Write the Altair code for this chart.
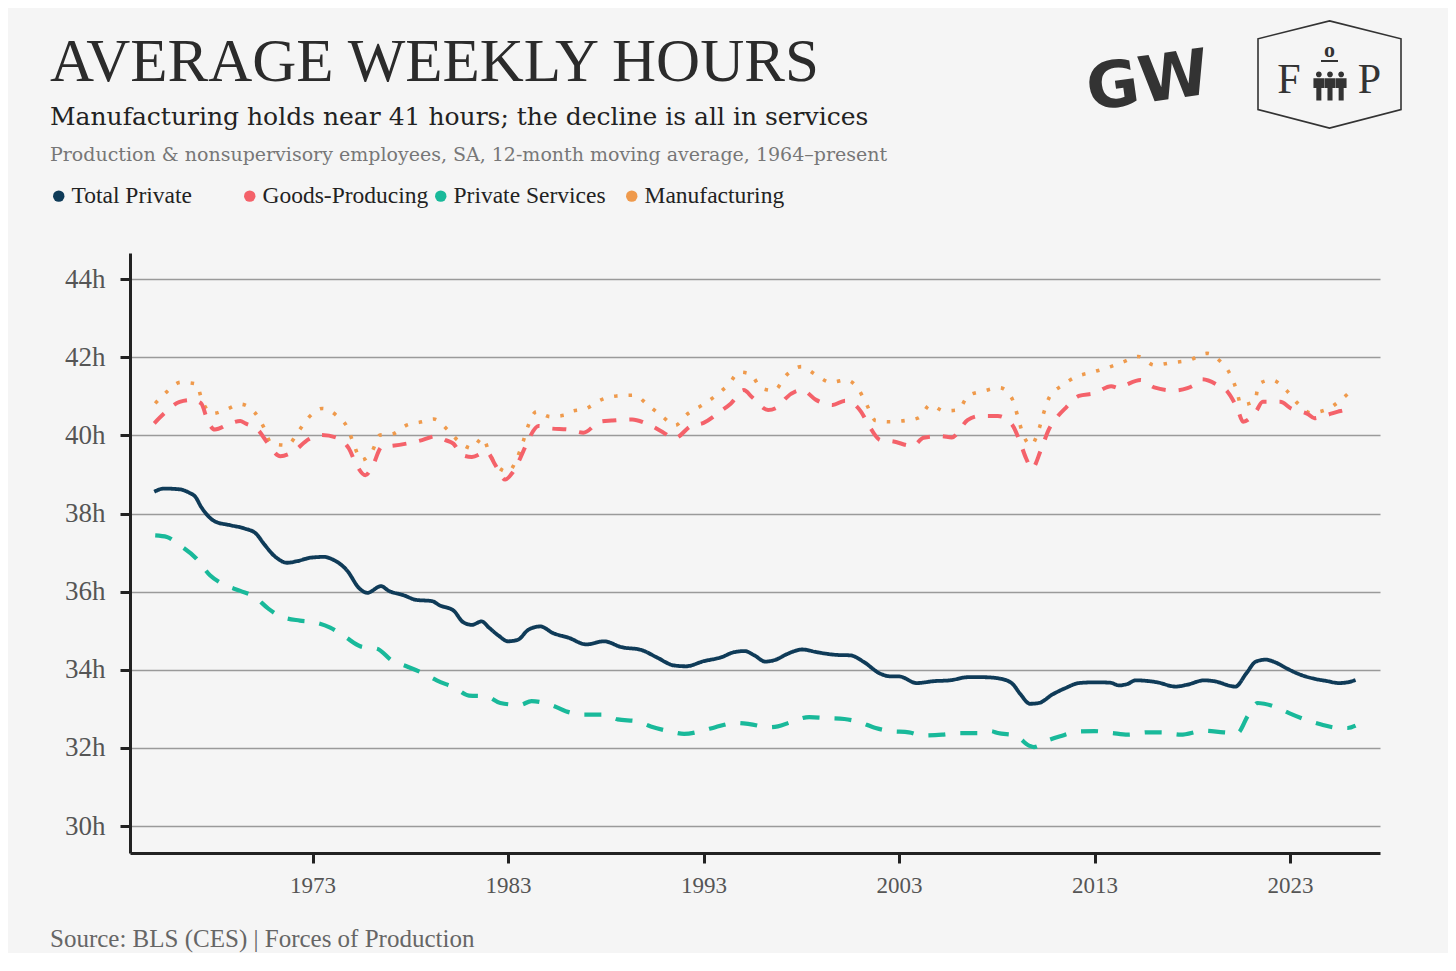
import altair as alt
import pandas as pd

# ---------------- data ----------------
SERIES = ["Total Private", "Goods-Producing", "Private Services", "Manufacturing"]
COLORS = ["#0f3b58", "#f4626a", "#19b99a", "#ef9a4c"]

tp_years = [1964.9, 1965.4, 1966.2, 1966.7, 1967.0, 1967.3, 1968.0, 1968.8, 1969.5, 1970.1,
            1970.5, 1971.1, 1971.7, 1972.2, 1972.9, 1973.6, 1974.0, 1974.75, 1975.4, 1975.8,
            1976.5, 1976.9, 1977.65, 1978.3, 1979.1, 1979.5, 1980.2, 1980.7, 1981.15, 1981.65,
            1982.0, 1982.5, 1983.0, 1983.5, 1984.05, 1984.65, 1985.3, 1986.1, 1987.0, 1987.9,
            1988.8, 1989.8, 1990.6, 1991.5, 1992.1, 1993.0, 1993.9, 1994.55, 1995.1, 1995.6,
            1996.15, 1996.7, 1997.3, 1998.05, 1998.8, 1999.85, 2000.5, 2001.2, 2002.0, 2002.6,
            2003.0, 2003.9, 2004.8, 2005.6, 2006.5, 2007.35, 2008.2, 2008.8, 2009.2, 2009.7,
            2010.15, 2010.85, 2011.5, 2012.2, 2013.0, 2013.8, 2014.25, 2014.7, 2015.1, 2016.2,
            2017.15, 2017.75, 2018.6, 2019.1, 2020.2, 2020.75, 2021.25, 2021.75, 2022.2, 2022.85,
            2023.55, 2024.25, 2024.9, 2025.5, 2025.95, 2026.35]
tp_hours = [38.56, 38.64, 38.62, 38.53, 38.43, 38.17, 37.80, 37.70, 37.62, 37.49,
            37.23, 36.89, 36.74, 36.78, 36.87, 36.89, 36.83, 36.55, 36.08, 35.97,
            36.14, 36.02, 35.91, 35.79, 35.76, 35.65, 35.52, 35.22, 35.15, 35.24,
            35.09, 34.88, 34.73, 34.77, 35.03, 35.11, 34.94, 34.82, 34.65, 34.73,
            34.58, 34.51, 34.32, 34.11, 34.09, 34.22, 34.32, 34.45, 34.48, 34.37,
            34.21, 34.26, 34.41, 34.52, 34.45, 34.38, 34.37, 34.20, 33.91, 33.83,
            33.83, 33.66, 33.71, 33.73, 33.81, 33.81, 33.77, 33.64, 33.38, 33.13,
            33.15, 33.37, 33.53, 33.66, 33.68, 33.67, 33.60, 33.64, 33.73, 33.68,
            33.57, 33.62, 33.73, 33.71, 33.57, 33.90, 34.21, 34.26, 34.20, 34.03,
            33.87, 33.77, 33.71, 33.66, 33.68, 33.74]

gp_years = [1964.9, 1965.4, 1966.2, 1966.8, 1967.3, 1967.65, 1968.0, 1968.8, 1969.3, 1969.55,
            1970.25, 1970.65, 1971.35, 1972.0, 1972.8, 1973.45, 1974.25, 1974.85, 1975.25, 1975.7,
            1976.05, 1976.55, 1977.0, 1978.0, 1978.6, 1979.3, 1979.8, 1980.2, 1980.65, 1981.15,
            1981.9, 1982.35, 1982.85, 1983.2, 1983.65, 1984.05, 1984.55, 1985.15, 1986.1, 1986.85,
            1987.7, 1988.3, 1989.35, 1990.0, 1990.9, 1991.5, 1992.35, 1993.0, 1993.85, 1994.4,
            1995.05, 1995.5, 1996.3, 1996.85, 1997.2, 1998.05, 1998.75, 1999.6, 2000.25, 2001.05,
            2001.45, 2002.05, 2002.65, 2003.7, 2004.25, 2005.15, 2005.7, 2006.5, 2007.15, 2008.05,
            2008.8, 2009.15, 2009.5, 2009.8, 2010.25, 2010.65, 2011.1, 2011.55, 2012.2, 2013.0,
            2013.85, 2014.25, 2014.6, 2015.35, 2016.05, 2017.05, 2017.75, 2018.1, 2018.5, 2019.3,
            2019.8, 2020.3, 2020.6, 2021.25, 2021.6, 2022.5, 2023.05, 2023.9, 2024.25, 2024.6,
            2025.45, 2025.85, 2026.1]
gp_hours = [40.31, 40.56, 40.86, 40.91, 40.82, 40.35, 40.15, 40.31, 40.37, 40.31,
            40.12, 39.84, 39.47, 39.58, 39.90, 40.01, 39.94, 39.67, 39.24, 38.98,
            39.20, 39.71, 39.73, 39.81, 39.88, 39.98, 39.88, 39.79, 39.50, 39.45,
            39.58, 39.24, 38.87, 39.03, 39.45, 39.90, 40.24, 40.18, 40.15, 40.07,
            40.35, 40.38, 40.41, 40.32, 40.09, 39.92, 40.24, 40.32, 40.61, 40.82,
            41.16, 40.97, 40.65, 40.74, 40.95, 41.16, 40.91, 40.78, 40.89, 40.61,
            40.26, 39.88, 39.85, 39.73, 39.94, 39.98, 39.95, 40.39, 40.50, 40.50,
            40.26, 39.88, 39.41, 39.15, 39.62, 40.14, 40.48, 40.72, 41.01, 41.08,
            41.26, 41.21, 41.29, 41.42, 41.23, 41.15, 41.21, 41.29, 41.44, 41.29,
            41.12, 40.69, 40.35, 40.61, 40.86, 40.86, 40.69, 40.55, 40.44, 40.48,
            40.61, 40.67, 40.84]

ps_years = [1964.95, 1965.55, 1966.2, 1967.05, 1967.75, 1968.35, 1969.3, 1970.0, 1970.75, 1971.35,
            1972.35, 1973.05, 1973.9, 1974.65, 1975.45, 1976.3, 1977.05, 1977.8, 1978.7, 1979.35,
            1980.3, 1981.0, 1981.9, 1982.6, 1983.6, 1984.2, 1985.25, 1985.95, 1986.9, 1987.9,
            1988.6, 1989.6, 1990.3, 1991.3, 1992.0, 1992.95, 1993.6, 1994.65, 1995.35, 1996.3,
            1996.8, 1997.45, 1998.4, 1999.15, 2000.2, 2000.85, 2001.8, 2002.55, 2003.5, 2004.2,
            2005.2, 2006.0, 2007.0, 2007.7, 2008.05, 2008.95, 2009.65, 2009.9, 2010.6, 2011.25,
            2012.2, 2013.0, 2013.9, 2014.7, 2015.7, 2016.4, 2017.4, 2018.6, 2019.6, 2020.3,
            2020.85, 2021.35, 2022.3, 2022.95, 2023.8, 2024.6, 2025.5, 2025.95, 2026.35]
ps_hours = [37.44, 37.40, 37.19, 36.85, 36.42, 36.21, 36.02, 35.88, 35.56, 35.37,
            35.26, 35.22, 35.08, 34.85, 34.60, 34.54, 34.24, 34.09, 33.90, 33.73,
            33.53, 33.34, 33.32, 33.15, 33.10, 33.20, 33.09, 32.94, 32.85, 32.85,
            32.73, 32.68, 32.55, 32.42, 32.36, 32.44, 32.53, 32.64, 32.61, 32.53,
            32.55, 32.66, 32.79, 32.77, 32.74, 32.68, 32.51, 32.43, 32.40, 32.32,
            32.34, 32.38, 32.38, 32.43, 32.38, 32.32, 32.06, 32.02, 32.19, 32.30,
            32.42, 32.43, 32.38, 32.34, 32.40, 32.40, 32.34, 32.44, 32.40, 32.38,
            32.83, 33.15, 33.04, 32.89, 32.72, 32.60, 32.51, 32.51, 32.57]

mf_years = [1964.95, 1965.55, 1966.25, 1967.05, 1967.35, 1967.9, 1968.6, 1969.3, 1970.05, 1970.5,
            1970.9, 1971.7, 1972.3, 1972.8, 1973.5, 1974.25, 1974.8, 1975.1, 1975.5, 1976.05,
            1976.45, 1977.05, 1977.8, 1978.6, 1979.2, 1979.9, 1980.45, 1981.15, 1981.7, 1982.05,
            1982.5, 1983.0, 1983.45, 1983.75, 1984.0, 1984.45, 1985.15, 1985.9, 1986.2, 1987.0,
            1987.75, 1988.55, 1989.45, 1990.15, 1990.85, 1991.55, 1992.2, 1992.95, 1993.65, 1994.25,
            1994.85, 1995.4, 1995.95, 1996.6, 1997.25, 1998.0, 1998.75, 1999.5, 2000.3, 2000.95,
            2001.35, 2001.8, 2002.55, 2003.3, 2004.0, 2004.6, 2005.3, 2006.0, 2006.55, 2007.35,
            2008.15, 2008.8, 2009.05, 2009.3, 2009.75, 2010.15, 2010.4, 2010.7, 2011.35, 2012.05,
            2012.9, 2013.7, 2014.5, 2015.25, 2016.05, 2016.9, 2017.85, 2018.75, 2019.4, 2019.95,
            2020.25, 2020.5, 2021.2, 2021.4, 2022.05, 2022.8, 2023.35, 2024.05, 2024.9, 2025.6,
            2026.25]
mf_hours = [40.82, 41.12, 41.36, 41.32, 40.89, 40.56, 40.67, 40.80, 40.58, 40.21,
            39.79, 39.75, 40.12, 40.46, 40.69, 40.50, 40.18, 39.78, 39.37, 39.60,
            40.01, 40.03, 40.26, 40.35, 40.42, 40.15, 39.86, 39.67, 39.94, 39.54,
            39.18, 39.07, 39.41, 39.81, 40.21, 40.61, 40.48, 40.52, 40.61, 40.69,
            40.91, 41.01, 41.03, 40.78, 40.50, 40.26, 40.56, 40.78, 41.03, 41.29,
            41.62, 41.57, 41.21, 41.15, 41.55, 41.76, 41.55, 41.36, 41.42, 41.16,
            40.78, 40.38, 40.35, 40.38, 40.45, 40.78, 40.63, 40.65, 41.02, 41.14,
            41.22, 40.92, 40.52, 40.09, 39.75, 40.15, 40.58, 40.99, 41.28, 41.50,
            41.62, 41.74, 41.89, 42.02, 41.80, 41.86, 41.93, 42.10, 41.91, 41.55,
            41.18, 40.78, 40.88, 41.32, 41.42, 41.16, 40.84, 40.58, 40.67, 40.91,
            41.21]

X_TICKS = [1973, 1983, 1993, 2003, 2013, 2023]
Y_TICKS = [30, 32, 34, 36, 38, 40, 42, 44]

TITLE = "AVERAGE WEEKLY HOURS"
SUBTITLE = "Manufacturing holds near 41 hours; the decline is all in services"
NOTE = "Production & nonsupervisory employees, SA, 12-month moving average, 1964\u2013present"
SOURCE = "Source: BLS (CES) | Forces of Production"

# ---------------- build tables ----------------
def series_frame(name, years, hours):
    return pd.DataFrame({"series": name, "year": years, "hours": hours})

frames = {
    "Total Private": series_frame("Total Private", tp_years, tp_hours),
    "Goods-Producing": series_frame("Goods-Producing", gp_years, gp_hours),
    "Private Services": series_frame("Private Services", ps_years, ps_hours),
    "Manufacturing": series_frame("Manufacturing", mf_years, mf_hours),
}
all_df = pd.concat(frames.values(), ignore_index=True)
one = pd.DataFrame({"k": [0]})

W, H = 1250, 600
X_DOMAIN = [1963.66, 2027.6]
Y_DOMAIN = [29.31, 44.67]

X = alt.X("year:Q", scale=alt.Scale(domain=X_DOMAIN, nice=False, zero=False),
          axis=alt.Axis(values=X_TICKS, format="d", title=None, grid=False, labelPadding=11,
                        labelFontSize=23, labelFlush=False))
Y = alt.Y("hours:Q", scale=alt.Scale(domain=Y_DOMAIN, nice=False, zero=False),
          axis=alt.Axis(values=Y_TICKS, labelExpr="datum.value + 'h'", title=None, grid=True,
                        labelPadding=15, labelFontSize=27, labelFlush=False))

styles = {
    "Total Private": dict(strokeWidth=3.8, strokeDash=[1, 0]),
    "Goods-Producing": dict(strokeWidth=4.0, strokeDash=[14, 13]),
    "Private Services": dict(strokeWidth=4.2, strokeDash=[17, 15]),
    "Manufacturing": dict(strokeWidth=3.6, strokeDash=[3.5, 11]),
}

line_layers = []
for name, color in zip(["Manufacturing", "Goods-Producing", "Private Services", "Total Private"],
                       [COLORS[3], COLORS[1], COLORS[2], COLORS[0]]):
    line_layers.append(
        alt.Chart(frames[name]).mark_line(color=color, strokeCap="butt", strokeJoin="round",
                                          interpolate="monotone", **styles[name])
        .encode(x=X, y=Y)
    )

legend_layer = (
    alt.Chart(all_df).transform_filter("false").mark_circle(opacity=1)
    .encode(
        x=X, y=Y,
        color=alt.Color("series:N", scale=alt.Scale(domain=SERIES, range=COLORS),
                        legend=alt.Legend(orient="none", legendX=-83, legendY=-69,
                                          direction="horizontal", title=None,
                                          symbolType="circle", symbolSize=130,
                                          symbolStrokeWidth=0, symbolOpacity=1,
                                          labelFont="Liberation Serif", labelFontSize=23.5,
                                          labelColor="#222222", labelOffset=1,
                                          labelLimit=400, gridAlign="all",
                                          columnPadding=0, padding=0)),
    )
)

def text_layer(txt, x, y, font, size, color, weight="normal", align="left",
               baseline="alphabetic", angle=0):
    kw = dict(font=font, fontSize=size, color=color, fontWeight=weight, align=align,
              baseline=baseline)
    if angle:
        kw["angle"] = angle
    return alt.Chart(one).mark_text(**kw).encode(
        x=alt.value(x), y=alt.value(y), text=alt.value(txt))

header = [
    text_layer(TITLE, -80, -172, "Liberation Serif", 61, "#2b2b2b"),
    text_layer(SUBTITLE, -80, -128, "DejaVu Serif", 25, "#222222"),
    text_layer(NOTE, -80, -92, "DejaVu Serif", 19, "#777777"),
    text_layer(SOURCE, -80, 694, "Liberation Serif", 25, "#666666"),
]

# ---------------- logos (decoration) ----------------
hexagon = "M0,-0.75 L1,-0.5 L1,0.49 L0,0.75 L-1,0.49 L-1,-0.5 Z"
people = ""
for cx in (-0.62, 0.0, 0.62):
    people += (f"M{cx-0.16:.2f},-0.55 A0.16,0.16 0 1,0 {cx+0.16:.2f},-0.55 "
               f"A0.16,0.16 0 1,0 {cx-0.16:.2f},-0.55 Z ")
    people += (f"M{cx-0.3:.2f},-0.33 L{cx+0.3:.2f},-0.33 L{cx+0.3:.2f},0.2 L{cx+0.14:.2f},0.2 "
               f"L{cx+0.14:.2f},0.9 L{cx-0.14:.2f},0.9 L{cx-0.14:.2f},0.2 L{cx-0.3:.2f},0.2 Z ")

logos = [
    text_layer("GW", 1018, -170, "DejaVu Sans", 64, "#333333", weight="bold", align="center",
               baseline="middle", angle=352),
    alt.Chart(one).mark_point(shape=hexagon, filled=False, size=20449, stroke="#333333",
                              strokeWidth=1.6, opacity=1)
    .encode(x=alt.value(1199.5), y=alt.value(-178.5)),
    text_layer("F", 1159, -160, "Liberation Serif", 42, "#333333", align="center"),
    text_layer("P", 1239.5, -160, "Liberation Serif", 42, "#333333", align="center"),
    text_layer("o", 1199.5, -196, "Liberation Serif", 22, "#333333", weight="bold",
               align="center"),
    alt.Chart(one).mark_rule(color="#333333", strokeWidth=2)
    .encode(x=alt.value(1191), x2=alt.value(1208), y=alt.value(-192)),
    alt.Chart(one).mark_point(shape=people, filled=True, size=1296, color="#333333", opacity=1)
    .encode(x=alt.value(1200), y=alt.value(-168.7)),
]

chart = (
    alt.layer(*line_layers, legend_layer, *header, *logos)
    .properties(width=W, height=H,
                padding={"left": 122, "top": 245, "right": 68, "bottom": 100},
                autosize=alt.AutoSizeParams(type="none"))
    .configure(background="#f5f5f5")
    .configure_view(stroke=None)
    .configure_axis(domainColor="#222222", domainWidth=3, tickColor="#222222", tickWidth=3,
                    tickSize=10, labelFont="Liberation Serif",
                    labelColor="#555555", gridColor="#9a9a9a", gridWidth=1.5)
)

chart.save("out.html", embed_options={"renderer": "svg", "actions": False})
